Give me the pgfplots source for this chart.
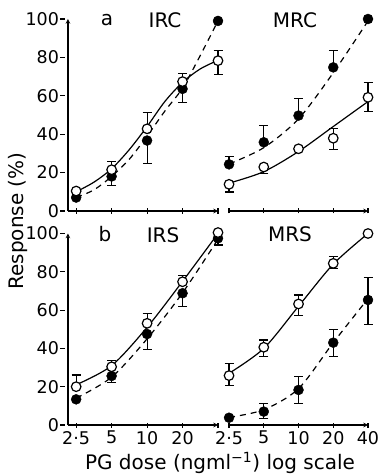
\documentclass[border=0pt]{standalone}
\usepackage{fontspec}
\setmainfont{DejaVu Sans}
\usepackage{pgfplots}
\pgfplotsset{compat=1.18}
\begin{document}
\begin{tikzpicture}
\path[use as bounding box] (0pt,0pt) rectangle (380pt,475pt);
\pgfplotsset{
  base/.style={scale only axis, clip=false, ymin=0, ymax=100, xmax=4,
    axis line style={-, line width=1.1pt, black},
    tick style={line width=1.1pt, black},
    major tick length=5pt, tick align=inside,
    xtick={0,1,2,3,4},
    /pgf/number format/assume math mode=true,
    tick label style={font=\fontsize{17.5}{18}\selectfont},
    error bars/error bar style={solid, line width=1.1pt},
    error bars/error mark=|,
    error bars/error mark options={solid, mark size=4.5pt, line width=1.1pt},
  },
  leftp/.style={base, xmin=-0.23, width=150pt,
    axis x line=bottom, axis y line=left,
    ytick={0,20,40,60,80,100},
    y tick style={xshift=-5pt},
    yticklabel style={xshift=-3pt}},
  rightp/.style={base, xmin=-0.03, width=140pt,
    axis x line=bottom, axis y line=none},
  openm/.style={only marks, mark=*, mark size=4.8pt, mark options={fill=white, draw=black, line width=1.2pt},
    error bars/.cd, y dir=both, y explicit},
  fillm/.style={only marks, mark=*, mark size=5pt, mark options={fill=black, draw=black},
    error bars/.cd, y dir=both, y explicit},
  solidc/.style={smooth, black, line width=1.2pt, no marks},
  dashc/.style={smooth, black, line width=1.2pt, no marks, dash pattern=on 6pt off 5pt},
}
% ---- top left: IRC
\begin{axis}[leftp, at={(68pt,264pt)}, anchor=south west, height=192pt, xticklabels={}]
\addplot[solidc] coordinates {(0,10) (0.5,15) (1,22) (1.5,32) (2,44) (2.5,57) (3,67) (3.5,74) (4,78.5)};
\addplot[dashc] coordinates {(0,7) (0.5,11) (1,18) (1.5,27) (2,39) (2.5,52) (3,64) (3.5,81) (4,99)};
\addplot[fillm] table[x=x, y=y, y error plus=ep, y error minus=em] {
x y ep em
0 7 0 0
1 18 0 4.6
2 36.7 0 12.1
3 63.6 0 7.3
4 99 0 0
};
\addplot[openm] table[x=x, y=y, y error plus=ep, y error minus=em] {
x y ep em
0 10.4 0 0
1 21.5 4.3 0
2 42.8 8.6 0
3 67.4 4 0
4 78.3 5.5 7.3
};
\end{axis}
% ---- top right: MRC
\begin{axis}[rightp, at={(228pt,264pt)}, anchor=south west, height=192pt, xticklabels={}]
\addplot[solidc] coordinates {(0,14.5) (1,20.5) (2,31) (3,44) (4,57)};
\addplot[dashc] coordinates {(0,24.5) (1,33) (2,48) (3,72) (4,99)};
\addplot[fillm] table[x=x, y=y, y error plus=ep, y error minus=em] {
x y ep em
0 24.3 4.1 0
1 35.8 8.7 0
2 49.7 8.7 0
3 74.8 8.7 0
4 100 0 0
};
\addplot[openm] table[x=x, y=y, y error plus=ep, y error minus=em] {
x y ep em
0 13.9 0 4
1 22.9 0 3.5
2 32.4 0 0
3 37.9 5.2 6
4 59.2 7.8 7.4
};
\end{axis}
% ---- bottom left: IRS
\begin{axis}[leftp, at={(68pt,50pt)}, anchor=south west, height=191.5pt, xticklabels={2·5,5,10,20,}]
\addplot[solidc] coordinates {(0,21) (1,31) (2,51) (3,75) (4,100)};
\addplot[dashc] coordinates {(0,14) (1,25) (2,45) (3,69) (4,97)};
\addplot[fillm] table[x=x, y=y, y error plus=ep, y error minus=em] {
x y ep em
0 13.4 0 0
1 25.6 0 3.6
2 47.5 0 8.3
3 68.8 0 6.7
4 97.5 0 3.5
};
\addplot[openm] table[x=x, y=y, y error plus=ep, y error minus=em] {
x y ep em
0 20 6.1 0
1 30.4 3.2 0
2 53.1 4.9 0
3 74.8 3.5 0
4 100.5 0 0
};
\end{axis}
% ---- bottom right: MRS
\begin{axis}[rightp, at={(228pt,50pt)}, anchor=south west, height=191.5pt, xticklabels={2·5,5,10,20,40}]
\addplot[solidc] coordinates {(0,27) (1,40) (2,62) (3,84) (4,100)};
\addplot[dashc] coordinates {(0,4) (1,8) (2,19) (3,43) (4,66)};
\addplot[fillm] table[x=x, y=y, y error plus=ep, y error minus=em] {
x y ep em
0 3.8 0 0
1 7 4 3.5
2 18.3 6.9 7.3
3 43 7.1 7
4 65.3 11.6 12.6
};
\addplot[openm] table[x=x, y=y, y error plus=ep, y error minus=em] {
x y ep em
0 25.8 6.5 5.4
1 40.6 3.8 4.6
2 63.2 4.7 5.8
3 84.4 3.5 2.9
4 100 0 0
};
\end{axis}
% labels
\begin{scope}[every node/.style={font=\fontsize{20}{22}\selectfont, inner sep=0pt}]
\node at (107pt,455pt) {a};
\node at (165pt,455pt) {IRC};
\node at (295pt,455pt) {MRC};
\node at (105pt,241pt) {b};
\node at (163pt,240pt) {IRS};
\node at (290pt,241pt) {MRS};
\node[rotate=90] at (18pt,254pt) {Response (\%)};
\node at (220pt,12pt) {PG dose (ngml\textsuperscript{−1}) log scale};
\end{scope}
\end{tikzpicture}
\end{document}
